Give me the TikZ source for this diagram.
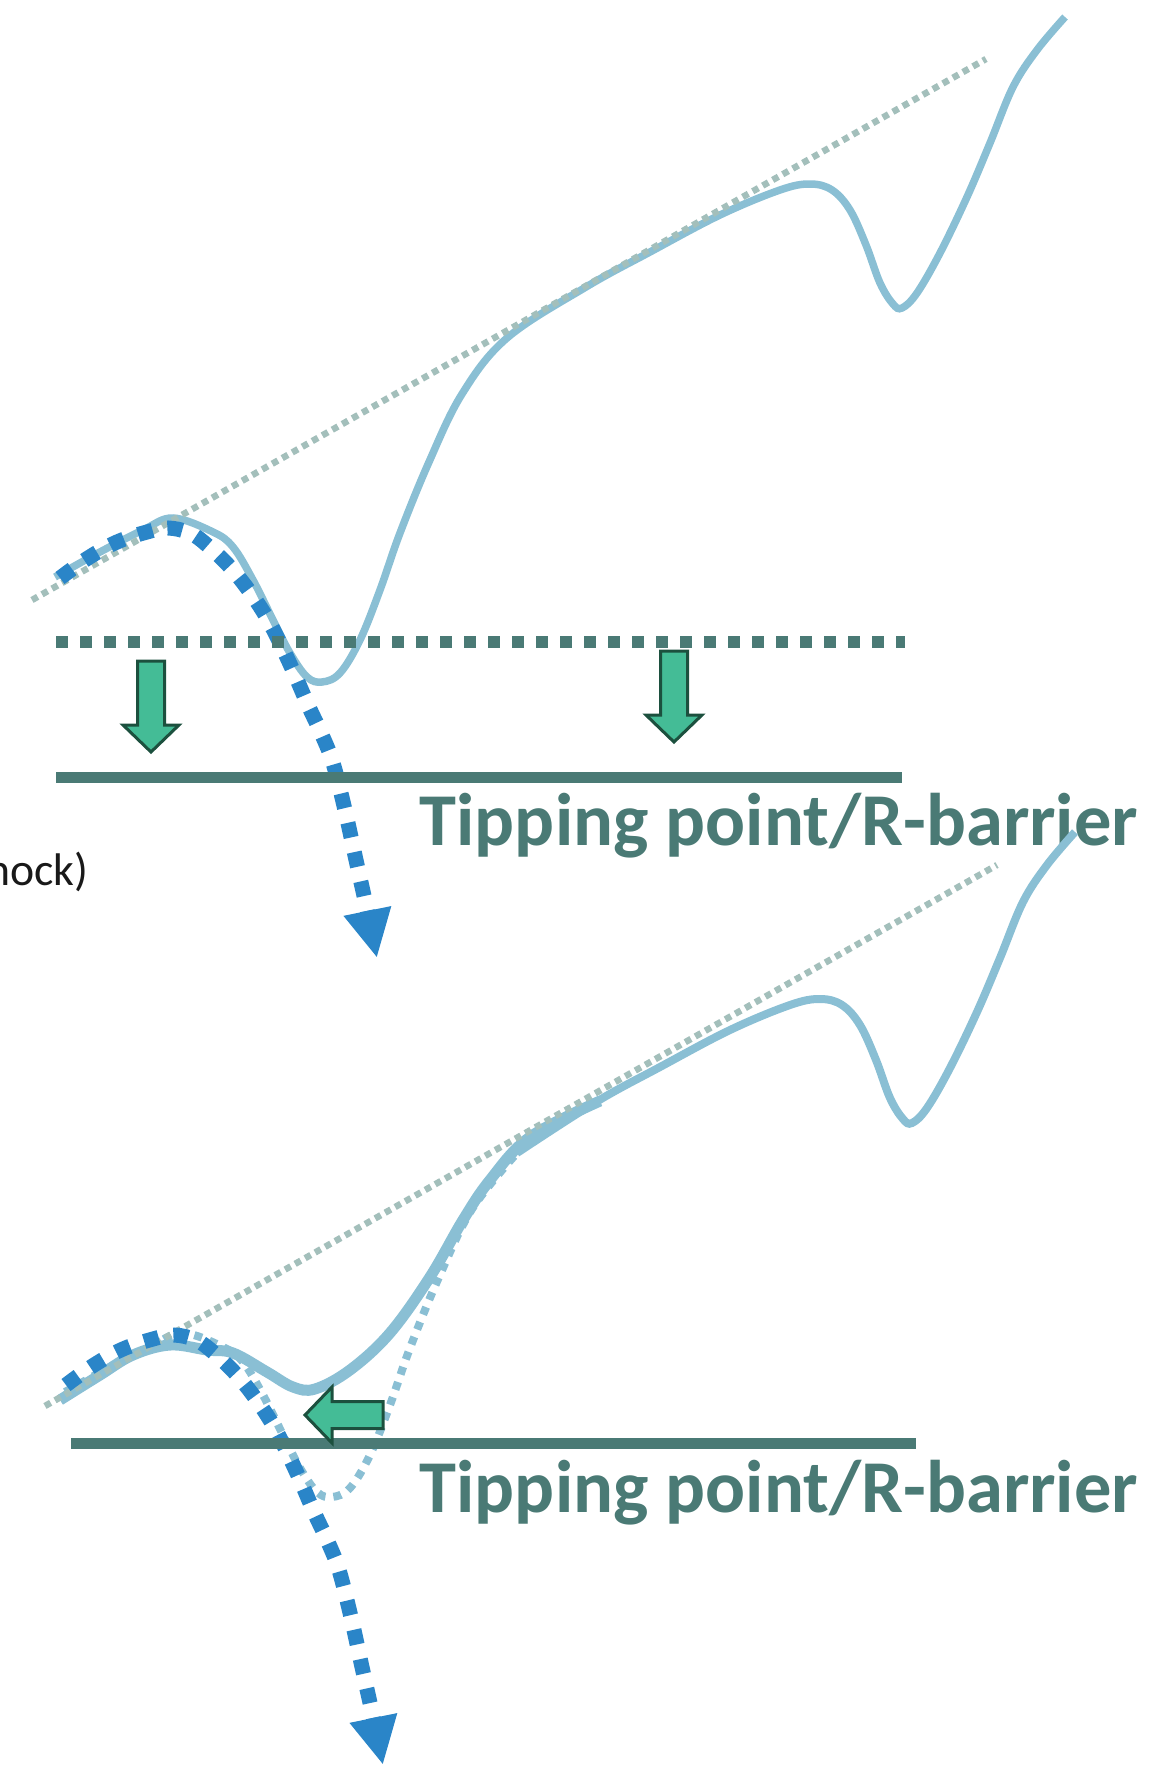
\documentclass[tikz,border=0pt]{standalone}
\usepackage{fontspec}
\setmainfont{Carlito}
\usetikzlibrary{arrows.meta}
\definecolor{landblue}{RGB}{138,191,212}
\definecolor{trendgrey}{RGB}{163,191,187}
\definecolor{barrierteal}{RGB}{74,122,117}
\definecolor{pathblue}{RGB}{42,133,200}
\definecolor{pushgreen}{RGB}{68,188,150}
\definecolor{pushedge}{RGB}{28,80,62}
\tikzset
{
  land/.style         = {draw=landblue, line width=0.075cm},
  oldland/.style      = {draw=landblue, line width=0.08cm, dash pattern=on 0.08cm off 0.08cm},
  trend/.style        = {draw=trendgrey, line width=0.065cm, dash pattern=on 0.065cm off 0.05cm},
  barrier/.style      = {draw=barrierteal, line width=0.11cm},
  oldbarrier/.style   = {draw=barrierteal, line width=0.12cm, dash pattern=on 0.12cm off 0.12cm},
  fall/.style         = {draw=pathblue, line width=0.15cm, dash pattern=on 0.15cm off 0.15cm, -{Triangle[width=0.45cm,length=0.48cm]}},
  barrierlabel/.style = {text=barrierteal, font=\fontsize{21.2}{25}\selectfont\bfseries, inner sep=0pt, anchor=base west},
  pics/push/.style    = {code={
    \draw[fill=pushgreen, draw=pushedge, line width=0.03cm] (-13.5,0) -- (13.5,0) -- (13.5,#1-27) -- (28,#1-27) -- (0,#1) -- (-28,#1-27) -- (-13.5,#1-27) -- cycle;
  }}
}
\begin{document}
\begin{tikzpicture}[x=0.01cm, y=-0.01cm]
  \useasboundingbox (0,0) rectangle (1166,1766);
  \clip (0,0) rectangle (1166,1766);

  % upper panel: landscape before the shock
  \draw[land] plot[smooth, tension=0.6] coordinates {(55,577) (100,552) (143,530) (173,518) (213,532) (233,547) (253,580) (273,620) (290,653) (307,677) (322,682) (340,673) (360,640) (380,590) (400,533) (429,462) (462,394) (507,338) (586,287) (650,252) (720,215) (780,190) (810,184) (832,190) (850,210) (866,245) (880,283) (893,304) (902,308) (917,293) (940,253) (967,197) (990,143) (1013,87) (1037,50) (1065,17)};
  \draw[trend] (32,600) -- (986,59);
  \draw[fall] plot[smooth, tension=0.6] coordinates {(60,578) (88,558) (117,542) (147,532) (168,528) (190,533) (207,545) (230,567) (250,592) (267,618) (282,647) (295,675) (308,705) (322,735) (333,763) (345,810) (356,860) (366,905) (377,958)};
  \draw[oldbarrier] (56,642) -- (905,642);
  \draw[barrier] (56,777) -- (902,777);
  \pic at (151,661) {push=91};
  \pic at (674,651) {push=91};
  \node[barrierlabel] (label1) at (419,845) {Tipping point/R-barrier};
  \node[inner sep=0pt, anchor=base east, text={black!90}, font=\fontsize{13}{15}\selectfont] (shock) at (89,885) {hock)};

  % lower panel: barrier raised, basin made shallower
  \begin{scope}[shift={(10,815)}]
    \draw[oldland] plot[smooth, tension=0.6] coordinates {(55,577) (100,552) (143,530) (173,518) (213,532) (233,547) (253,580) (273,620) (290,653) (307,677) (322,682) (340,673) (360,640) (380,590) (400,533) (429,462) (462,394) (507,338)};
    \draw[land, line width=0.08cm] plot[smooth, tension=0.6] coordinates {(507,338) (586,287) (650,252) (720,215) (780,190) (810,184) (832,190) (850,210) (866,245) (880,283) (893,304) (902,308) (917,293) (940,253) (967,197) (990,143) (1013,87) (1037,50) (1065,17)};
  \end{scope}
  \draw[land, line width=0.11cm] plot[smooth, tension=0.6] coordinates {(60,1400) (100,1375) (133,1355) (170,1345) (207,1350) (233,1353) (267,1372) (293,1387) (315,1389) (350,1370) (390,1333) (430,1277) (463,1220) (490,1180) (530,1137) (600,1101)};
  \draw[trend] (45,1406) -- (997,865);
  \begin{scope}[shift={(6,807)}]
    \draw[fall] plot[smooth, tension=0.6] coordinates {(60,578) (88,558) (117,542) (147,532) (168,528) (190,533) (207,545) (230,567) (250,592) (267,618) (282,647) (295,675) (308,705) (322,735) (333,763) (345,810) (356,860) (366,905) (377,958)};
  \end{scope}
  \draw[barrier] (71,1443) -- (916,1443);
  \pic[rotate=-90] at (383,1415) {push=78};
  \node[barrierlabel] (label2) at (419,1512) {Tipping point/R-barrier};
\end{tikzpicture}
\end{document}
